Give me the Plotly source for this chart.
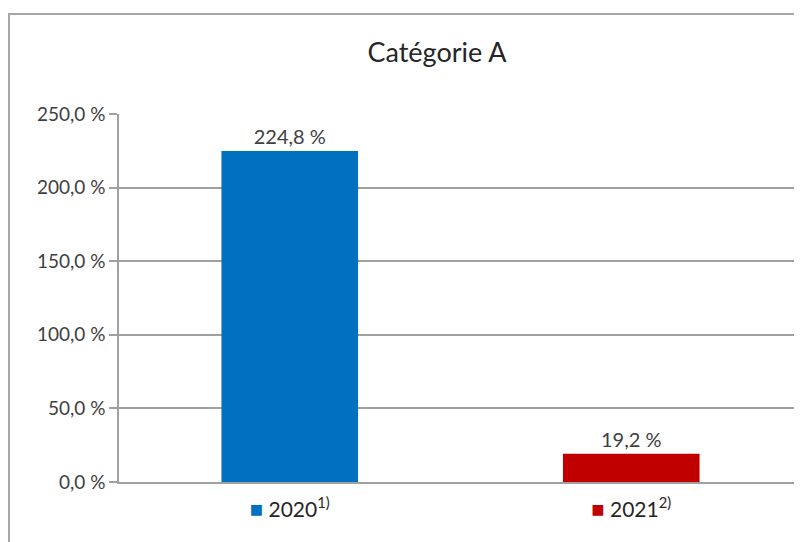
import plotly.graph_objects as go

categories = ["2020", "2021"]
footnotes = ["1)", "2)"]
values = [224.8, 19.2]
colors = ["#0070C0", "#C00000"]
y_ticks = [0, 50, 100, 150, 200, 250]
title = "Catégorie A"

ticktext = [
    f"<span style='color:{c};font-size:22px'>■</span> {cat}<sup>{fn}</sup>"
    for cat, fn, c in zip(categories, footnotes, colors)
]
y_ticktext = [f"{v:.1f}".replace(".", ",") + " %" for v in y_ticks]

# page body has an 8px offset; margins are set so the plot lands where the reference has it
OFF = 8
W, H = 802, 542
L, R, T, B = 119 - OFF, OFF, 114 - OFF, H - (482 - OFF)
PW, PH = W - L - R, H - T - B

fig = go.Figure(
    go.Bar(
        x=categories,
        y=values,
        marker=dict(color=colors, line=dict(width=0)),
        width=0.4,
        texttemplate="%{y:.1f} %",
        textposition="outside",
        textfont=dict(size=20, color="#404040"),
        cliponaxis=False,
        showlegend=False,
    )
)

fig.update_layout(
    width=W,
    height=H,
    margin=dict(l=L, r=R, t=T, b=B),
    paper_bgcolor="white",
    plot_bgcolor="white",
    separators=", ",
    font=dict(family="Lato, Open Sans, sans-serif", color="#404040", size=19),
    title=dict(
        text=title,
        x=(437 - 119) / PW,
        xref="paper",
        xanchor="center",
        y=1 - (53 - OFF) / H,
        yanchor="middle",
        font=dict(size=27, color="#262626"),
    ),
    bargap=0.6,
)

fig.update_yaxes(
    range=[0, 250],
    tickvals=y_ticks,
    ticktext=y_ticktext,
    showgrid=True,
    gridcolor="#A0A0A0",
    gridwidth=1.5,
    showline=True,
    linecolor="#A0A0A0",
    linewidth=1.5,
    ticks="outside",
    ticklen=8,
    tickcolor="#A0A0A0",
    tickwidth=1.5,
    zeroline=False,
    tickfont=dict(size=19, color="#404040"),
    fixedrange=True,
)

fig.update_xaxes(
    tickvals=categories,
    ticktext=ticktext,
    showline=True,
    linecolor="#A0A0A0",
    linewidth=1.5,
    ticks="",
    ticklabelstandoff=8,
    tickfont=dict(size=21, color="#262626"),
    fixedrange=True,
)

# outer chart frame (Excel-style chart area border)
fig.add_shape(
    type="rect",
    xref="paper",
    yref="paper",
    x0=(9 - 119) / PW,
    x1=1.05,
    y0=-0.3,
    y1=(482 - 14) / PH,
    line=dict(color="#A6A6A6", width=2),
    fillcolor="rgba(0,0,0,0)",
    layer="below",
)

fig.write_html("out.html")
